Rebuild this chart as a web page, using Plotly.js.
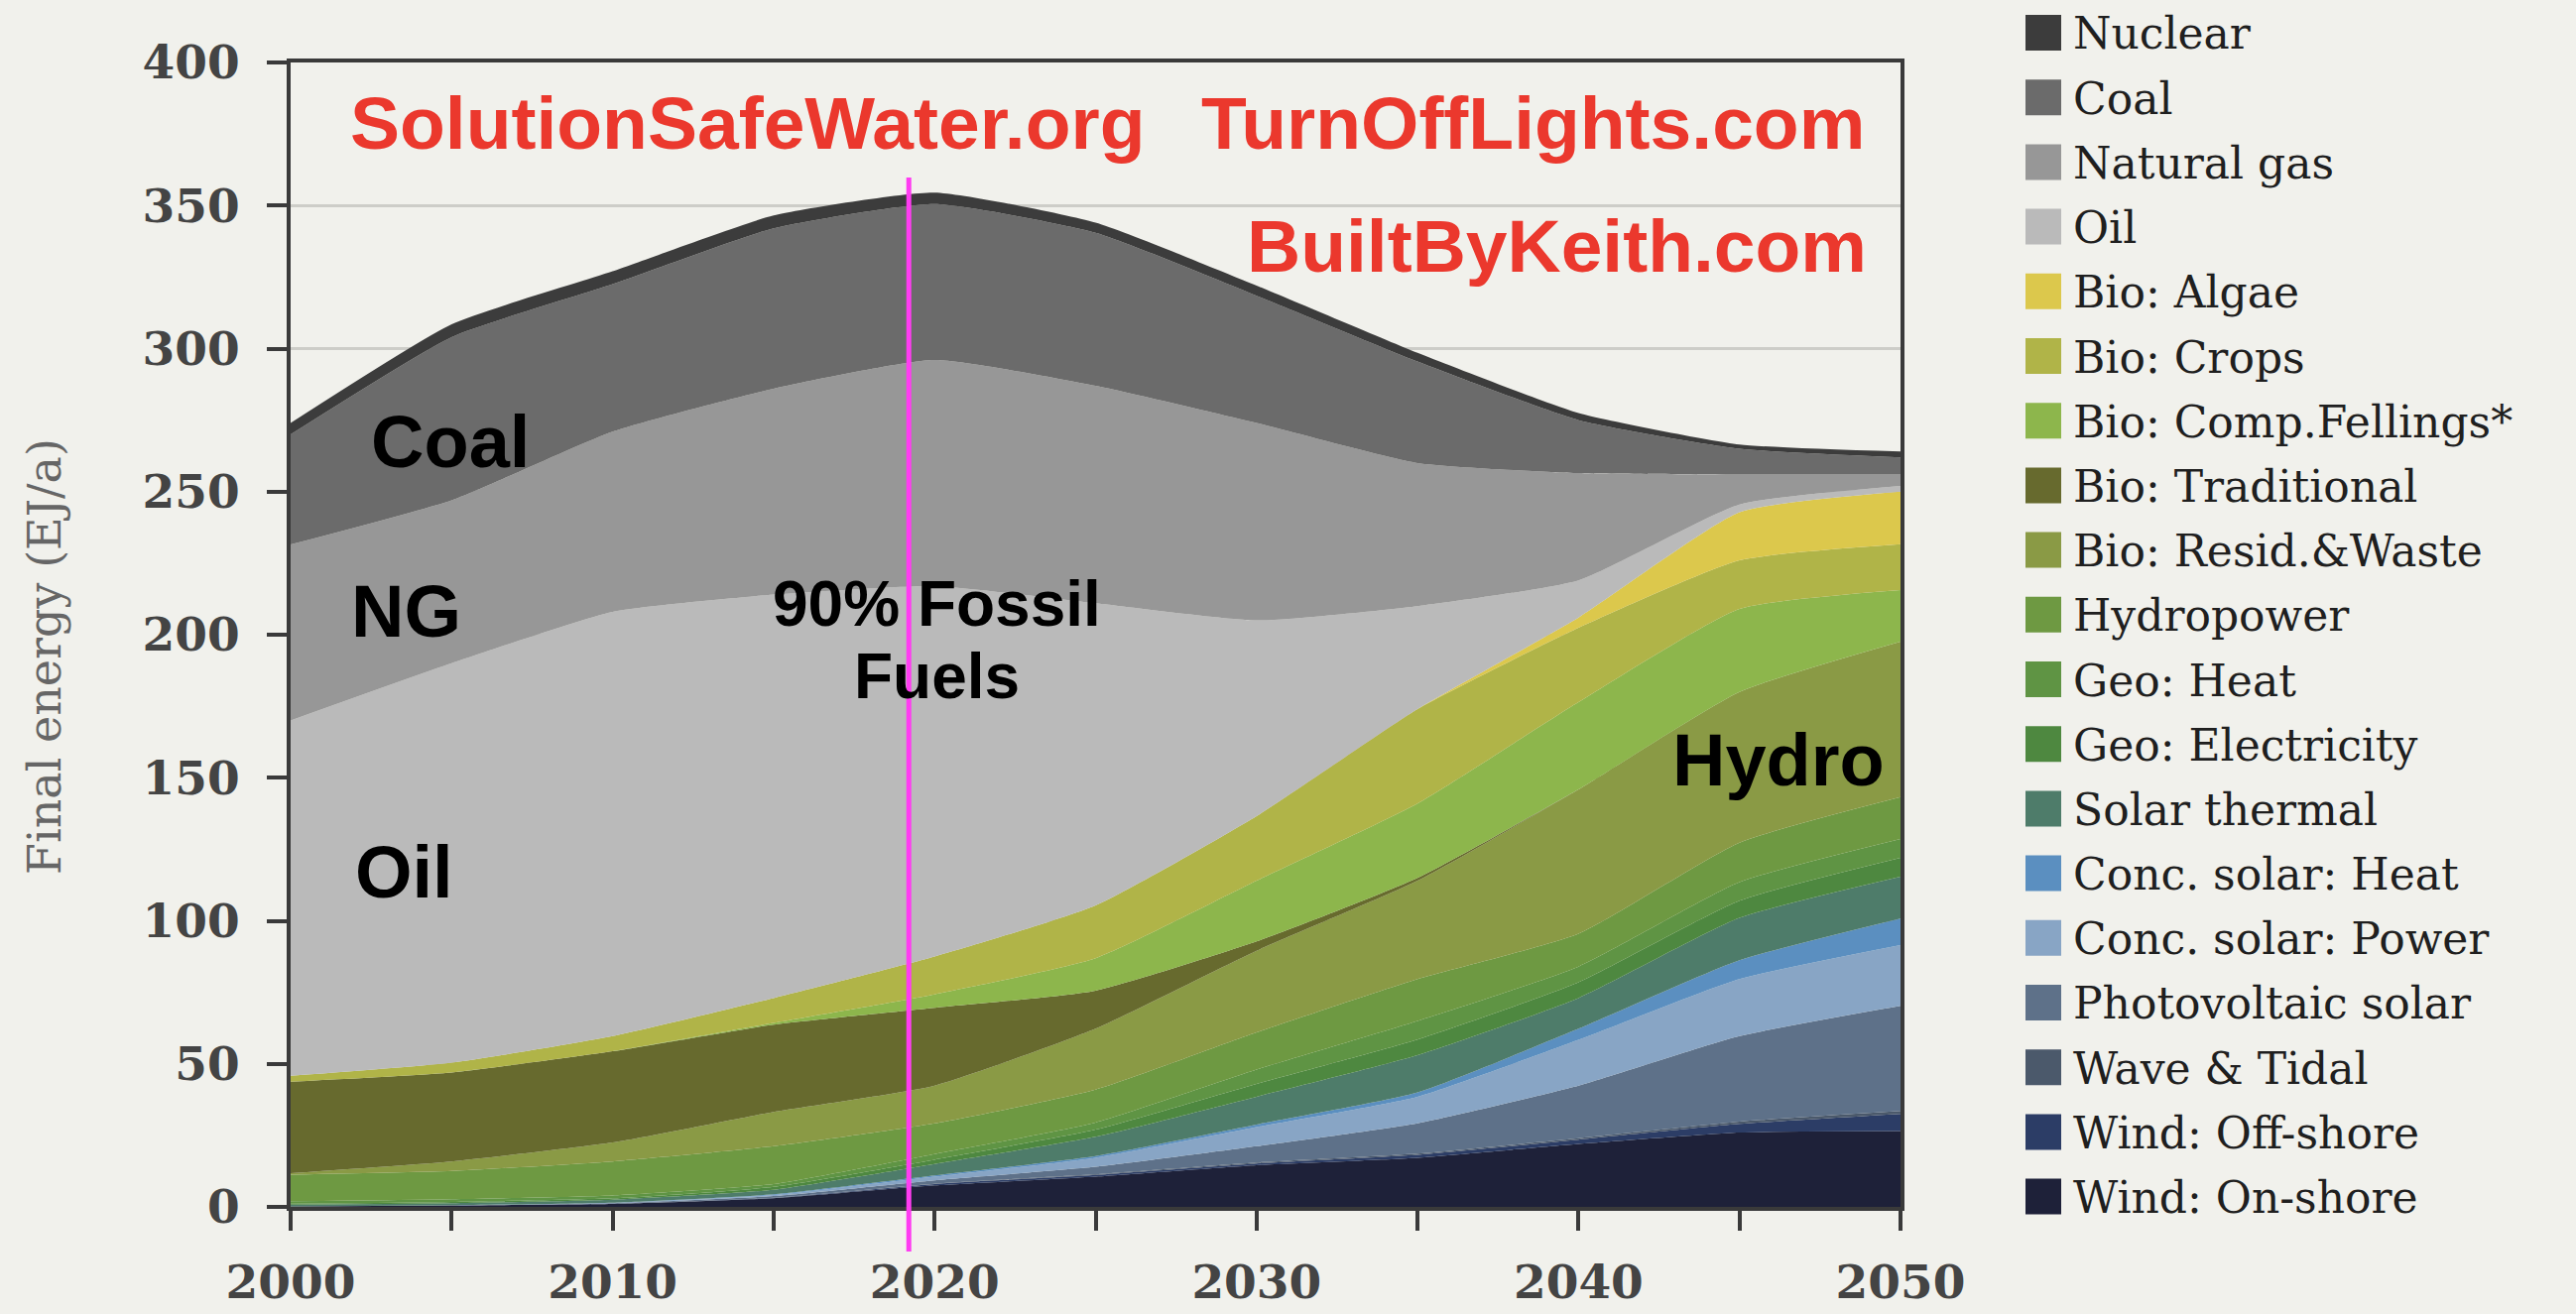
<!DOCTYPE html>
<html>
<head>
<meta charset="utf-8">
<script src="https://cdn.plot.ly/plotly-3.0.1.min.js"></script>
<style>
html,body{margin:0;padding:0;background:#f1f1ec;}
#chart{width:2597px;height:1325px;}
</style>
</head>
<body>
<div id="chart"></div>
<script>
// ---- data (EJ/a), stacked bottom -> top ----
const years = [2000, 2005, 2010, 2015, 2020, 2025, 2030, 2035, 2040, 2045, 2050];

const windOnshore     = [0.2, 0.5, 1.0, 3.0, 7.5, 10.6, 14.6, 17.2, 22.0, 26.0, 26.5];
const windOffshore    = [0, 0, 0, 0.2, 0.5, 0.6, 0.6, 1.0, 1.5, 3.0, 6.0];
const waveTidal       = [0, 0, 0, 0, 0.1, 0.2, 0.3, 0.4, 0.5, 0.8, 1.0];
const photovoltaic    = [0, 0.1, 0.3, 0.6, 1.2, 2.6, 5.7, 10.6, 18.4, 29.9, 36.8];
const concSolarPower  = [0, 0, 0.1, 0.4, 1.3, 3.2, 6.7, 9.3, 16.0, 19.9, 21.2];
const concSolarHeat   = [0, 0, 0.1, 0.2, 0.4, 0.6, 0.9, 1.5, 3.9, 6.6, 9.3];
const solarThermal    = [0.6, 0.7, 1.0, 1.6, 4.0, 6.7, 9.7, 13.0, 10.7, 14.8, 14.6];
const geoElectricity  = [0.3, 0.4, 0.5, 1.0, 1.5, 2.5, 4.5, 5.5, 5.5, 6.0, 6.6];
const geoHeat         = [0.9, 1.0, 1.0, 1.0, 2.0, 2.5, 5.0, 6.5, 5.5, 6.5, 6.6];
const hydropower      = [9.3, 9.9, 11.9, 13.2, 10.7, 11.5, 13.0, 14.6, 11.5, 13.8, 14.6];
const bioResidWaste   = [0.5, 3.3, 6.6, 12.0, 13.2, 21.3, 28.5, 34.4, 50.4, 52.7, 54.4];
const bioTraditional  = [32.0, 31.1, 31.9, 30.5, 27.2, 13.3, 3.3, 1.0, 0, 0, 0];
const bioCompFellings = [0, 0, 0, 0.6, 4.7, 11.3, 21.2, 26.0, 30.5, 29.0, 18.0];
const bioCrops        = [2.0, 3.4, 5.3, 8.7, 13.2, 18.5, 22.6, 33.0, 26.0, 17.0, 16.0];
const bioAlgae        = [0, 0, 0, 0, 0, 0, 0, 0, 3.6, 16.8, 18.4];
const oil             = [124.2, 139.6, 148.3, 141.0, 129.5, 105.6, 68.4, 36.0, 13.0, 2.7, 2.0];
const naturalGas      = [61.5, 57.0, 63.0, 72.0, 79.0, 76.0, 69.0, 50.0, 37.5, 10.5, 4.0];
const coal            = [38.5, 57.0, 51.5, 56.0, 54.5, 53.5, 44.5, 35.5, 18.5, 9.0, 6.0];
const nuclear         = [4.0, 4.5, 4.5, 4.5, 4.0, 3.5, 3.5, 3.0, 2.5, 1.5, 2.0];

const seriesNames = [
  "Wind: On-shore", "Wind: Off-shore", "Wave & Tidal", "Photovoltaic solar",
  "Conc. solar: Power", "Conc. solar: Heat", "Solar thermal", "Geo: Electricity",
  "Geo: Heat", "Hydropower", "Bio: Resid.&Waste", "Bio: Traditional",
  "Bio: Comp.Fellings*", "Bio: Crops", "Bio: Algae", "Oil", "Natural gas", "Coal", "Nuclear"
];
const seriesValues = [
  windOnshore, windOffshore, waveTidal, photovoltaic, concSolarPower, concSolarHeat,
  solarThermal, geoElectricity, geoHeat, hydropower, bioResidWaste, bioTraditional,
  bioCompFellings, bioCrops, bioAlgae, oil, naturalGas, coal, nuclear
];
const seriesColors = [
  "#1e2139", "#2c3d66", "#4b596b", "#5e7189", "#88a5c5", "#5b8fc0", "#4e7c6a",
  "#4e8840", "#5f9444", "#6e9942", "#8a9a45", "#676a2e", "#8db64c", "#b0b448",
  "#dcc84c", "#bababa", "#979797", "#6b6b6b", "#3c3c3c"
];

const xTickVals = [2000, 2005, 2010, 2015, 2020, 2025, 2030, 2035, 2040, 2045, 2050];
const xTickText = ["2000", "", "2010", "", "2020", "", "2030", "", "2040", "", "2050"];
const yTickVals = [0, 50, 100, 150, 200, 250, 300, 350, 400];
const yTickText = ["0", "50", "100", "150", "200", "250", "300", "350", "400"];
const yAxisTitle = "Final energy (EJ/a)";

const markerYear = 2019.2;

// ---- layout geometry (pixels) ----
const W = 2597, H = 1325;
const PL = 293, PR = 1916, PT = 63, PB = 1217;
const px2x = p => (p - PL) / (PR - PL);
const py2y = p => (PB - p) / (PB - PT);

const traces = seriesValues.map((vals, i) => ({
  type: "scatter",
  x: years,
  y: vals,
  name: seriesNames[i],
  stackgroup: "one",
  mode: "none",
  fillcolor: seriesColors[i],
  line: {width: 0, shape: "spline", smoothing: 0.5},
  showlegend: false,
  hoverinfo: "name+y"
}));

const shapes = [];
const annotations = [];

// manual legend (top: Nuclear ... bottom: Wind On-shore)
const legendTop = 33, legendStep = 65.2, sq = 36;
for (let k = 0; k < seriesNames.length; k++) {
  const i = seriesNames.length - 1 - k;
  const cy = legendTop + k * legendStep;
  shapes.push({
    type: "rect", xref: "paper", yref: "paper",
    x0: px2x(2042), x1: px2x(2042 + sq),
    y0: py2y(cy + sq / 2), y1: py2y(cy - sq / 2),
    fillcolor: seriesColors[i], line: {width: 0}
  });
  annotations.push({
    xref: "paper", yref: "paper", x: px2x(2088), y: py2y(cy + 1),
    xanchor: "left", yanchor: "middle", showarrow: false,
    text: seriesNames[i],
    font: {family: "DejaVu Serif", size: 44, color: "#1f1f1f"}
  });
}

// y-axis title
annotations.push({
  xref: "paper", yref: "paper", x: px2x(45), y: py2y(662),
  xanchor: "center", yanchor: "middle", showarrow: false, textangle: -90,
  text: yAxisTitle,
  font: {family: "DejaVu Serif", size: 46, color: "#666"}
});

// magenta "today" line
shapes.push({
  type: "line", xref: "x", yref: "paper",
  x0: markerYear, x1: markerYear, y0: py2y(1262), y1: py2y(179),
  line: {color: "#ff3cf2", width: 5}, layer: "above"
});

const red = "#eb382d";
const redFont = {family: "Liberation Sans, Arial, sans-serif", size: 75, color: red, weight: "bold"};
annotations.push(
  {xref: "paper", yref: "paper", x: px2x(351), y: py2y(124), xanchor: "left", yanchor: "middle",
   showarrow: false, text: "<b>SolutionSafeWater.org</b>", font: redFont},
  {xref: "paper", yref: "paper", x: px2x(1882), y: py2y(124), xanchor: "right", yanchor: "middle",
   showarrow: false, text: "<b>TurnOffLights.com</b>", font: redFont},
  {xref: "paper", yref: "paper", x: px2x(1884), y: py2y(248), xanchor: "right", yanchor: "middle",
   showarrow: false, text: "<b>BuiltByKeith.com</b>", font: redFont}
);

const blackFont = {family: "Liberation Sans, Arial, sans-serif", size: 74, color: "#000"};
const blackFont2 = {family: "Liberation Sans, Arial, sans-serif", size: 64, color: "#000"};
annotations.push(
  {xref: "paper", yref: "paper", x: px2x(372), y: py2y(446), xanchor: "left", yanchor: "middle",
   showarrow: false, text: "<b>Coal</b>", font: blackFont},
  {xref: "paper", yref: "paper", x: px2x(352), y: py2y(617), xanchor: "left", yanchor: "middle",
   showarrow: false, text: "<b>NG</b>", font: blackFont},
  {xref: "paper", yref: "paper", x: px2x(356), y: py2y(879), xanchor: "left", yanchor: "middle",
   showarrow: false, text: "<b>Oil</b>", font: blackFont},
  {xref: "paper", yref: "paper", x: px2x(944), y: py2y(609), xanchor: "center", yanchor: "middle",
   showarrow: false, text: "<b>90% Fossil</b>", font: blackFont2},
  {xref: "paper", yref: "paper", x: px2x(944), y: py2y(682), xanchor: "center", yanchor: "middle",
   showarrow: false, text: "<b>Fuels</b>", font: blackFont2},
  {xref: "paper", yref: "paper", x: px2x(1902), y: py2y(766), xanchor: "right", yanchor: "middle",
   showarrow: false, text: "<b>Hydro</b>", font: blackFont}
);

const tickFont = {family: "DejaVu Serif", size: 47, color: "#444444", weight: "bold"};

const layout = {
  width: W, height: H,
  paper_bgcolor: "#f1f1ec",
  plot_bgcolor: "#f1f1ec",
  margin: {l: PL, r: W - PR, t: PT, b: H - PB, pad: 0},
  showlegend: false,
  xaxis: {
    range: [2000, 2050],
    tickmode: "array", tickvals: xTickVals, ticktext: xTickText,
    ticks: "outside", ticklen: 20, tickwidth: 4, tickcolor: "#3a3a3a",
    ticklabelstandoff: 12,
    showline: true, linecolor: "#3a3a3a", linewidth: 4, mirror: true,
    showgrid: false, zeroline: false,
    tickfont: tickFont
  },
  yaxis: {
    range: [0, 400],
    tickmode: "array", tickvals: yTickVals, ticktext: yTickText,
    ticks: "outside", ticklen: 20, tickwidth: 4, tickcolor: "#3a3a3a",
    ticklabelstandoff: 18,
    showline: true, linecolor: "#3a3a3a", linewidth: 4, mirror: true,
    showgrid: true, gridcolor: "#cdcdc8", gridwidth: 3, zeroline: false,
    tickfont: tickFont
  },
  shapes: shapes,
  annotations: annotations
};

Plotly.newPlot("chart", traces, layout, {displayModeBar: false, staticPlot: true});
</script>
</body>
</html>
